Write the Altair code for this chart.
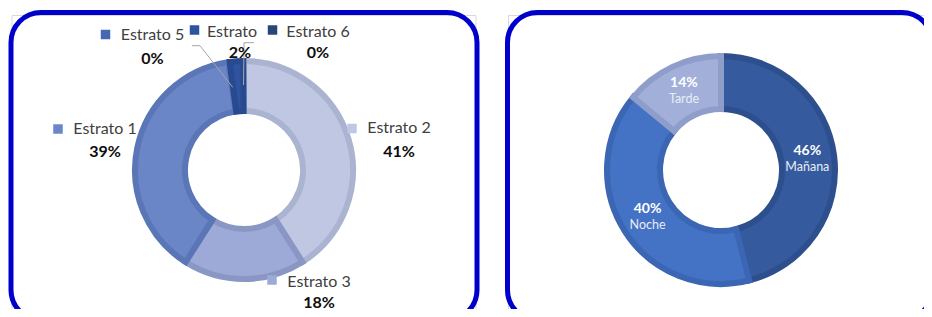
import math
import altair as alt
import pandas as pd

# ---------------- data ----------------
# Left donut (clockwise from 12 o'clock, as drawn)
estratos = ["Estrato 2", "Estrato 3", "Estrato 1", "Estrato 5", "Estrato 4", "Estrato 6"]
estrato_vals = [41.0, 18.0, 38.7, 0.2, 2.0, 0.1]
estrato_pct = ["41%", "18%", "39%", "0%", "2%", "0%"]
estrato_text = ["Estrato 2", "Estrato 3", "Estrato 1", "Estrato 5", "Estrato", "Estrato 6"]

# Right donut
jornadas = ["Mañana", "Noche", "Tarde"]
jornada_vals = [46, 40, 14]
jornada_pct = ["46%", "40%", "14%"]

# ---------------- styles ----------------
all_cats = estratos + jornadas
fill_colors = ["#BFC7E3", "#9DAAD7", "#6A86C7", "#4468B3", "#2E539F", "#27467C",
               "#355A9E", "#4472C4", "#A2B0D9"]
stroke_colors = ["#AAB3D0", "#8A97C4", "#5A76B6", "#4468B3", "#284A90", "#27467C",
                 "#2D4F8E", "#3B66B4", "#8F9DCA"]
fill_scale = alt.Scale(domain=all_cats, range=fill_colors)
stroke_scale = alt.Scale(domain=all_cats, range=stroke_colors)
theta_scale = alt.Scale(domain=[0, 100], range=[0, 2 * math.pi])
FONT = "Lato"

W, H = 916, 301

left_df = pd.DataFrame({"cat": estratos, "v": estrato_vals, "pct": estrato_pct, "name": estrato_text})
right_df = pd.DataFrame({"cat": jornadas, "v": jornada_vals, "pct": jornada_pct})


def base_of(df):
    return (
        alt.Chart(df)
        .transform_window(cum="sum(v)", frame=[None, 0])
        .transform_calculate(start="datum.cum - datum.v", mid="datum.cum - datum.v / 2")
    )


def donut(df, cx, cy, r_in, r_out, sw):
    return base_of(df).mark_arc(
        innerRadius=r_in + sw / 2, outerRadius=r_out - sw / 2, strokeJoin="miter"
    ).encode(
        theta=alt.Theta("start:Q", scale=theta_scale, stack=False),
        theta2="cum:Q",
        fill=alt.Fill("cat:N", scale=fill_scale, legend=None),
        stroke=alt.Stroke("cat:N", scale=stroke_scale, legend=None),
        strokeWidth=alt.condition("datum.v > 1", alt.value(sw), alt.value(0)),
        x=alt.value(cx),
        y=alt.value(cy),
    )


deco = alt.Data(values=[{}])


def frame(x0, x1, y0, y1):
    gray = alt.Chart(deco).mark_rect(fillOpacity=0, stroke="#D9D9D9", strokeWidth=1).encode(
        x=alt.value(x0 + 1), x2=alt.value(x1 - 1), y=alt.value(y0 + 3), y2=alt.value(y1 + 20)
    )
    blue = alt.Chart(deco).mark_rect(
        fillOpacity=0, stroke="#0000CC", strokeWidth=5, cornerRadius=30
    ).encode(x=alt.value(x0), x2=alt.value(x1), y=alt.value(y0), y2=alt.value(y1))
    return [gray, blue]


layers = []
layers += frame(3, 469, 4.5, 312)
layers += frame(499.5, 924, 4.5, 312)

# Left donut
LCX, LCY = 236, 162
layers.append(donut(left_df, LCX, LCY, 56, 112, 6))

# Right donut
RCX, RCY = 713, 162
layers.append(donut(right_df, RCX, RCY, 58, 117, 6))

# Right donut labels (inside the slices)
rbase = base_of(right_df)
layers.append(
    rbase.mark_text(radius=87, dy=-8, font=FONT, fontSize=14, fontWeight="bold", color="#FFFFFF").encode(
        theta=alt.Theta("mid:Q", scale=theta_scale, stack=False),
        text="pct:N",
        x=alt.value(RCX),
        y=alt.value(RCY),
    )
)
layers.append(
    rbase.mark_text(radius=87, dy=8, font=FONT, fontSize=12.5, color="#E9ECF5").encode(
        theta=alt.Theta("mid:Q", scale=theta_scale, stack=False),
        text="cat:N",
        x=alt.value(RCX),
        y=alt.value(RCY),
    )
)

# Left donut outside labels (Excel-style placement)
label_layout = {
    # cat: (name center x, name y, pct y, square x, square y)
    "Estrato 1": (97, 121, 143.7, 50, 121),
    "Estrato 2": (391, 120, 143.7, 344, 120.5),
    "Estrato 3": (311, 273.5, 294.5, 264, 272),
    "Estrato 5": (144.5, 27, 50.5, 97.5, 26.5),
    "Estrato 4": (224, 23.7, 45.3, 186.5, 22),
    "Estrato 6": (310, 23.7, 45, 264.5, 22),
}
pct_x = {"Estrato 4": 232}

# leader lines
leader_segments = [
    (184, 37.7, 192, 37.7), (192, 37.7, 224.7, 79.3),
    (246, 34.7, 236, 34.7), (236, 34.7, 235.5, 77),
]
for (x1, y1, x2, y2) in leader_segments:
    layers.append(
        alt.Chart(deco).mark_rule(color="#A6A6A6", strokeWidth=1).encode(
            x=alt.value(x1), y=alt.value(y1), x2=alt.value(x2), y2=alt.value(y2)
        )
    )

for cat in ["Estrato 1", "Estrato 2", "Estrato 3", "Estrato 5", "Estrato 4", "Estrato 6"]:
    nx, ny, py, sx, sy = label_layout[cat]
    one = alt.Chart(left_df).transform_filter(alt.datum.cat == cat)
    layers.append(
        one.mark_text(font=FONT, fontSize=16, color="#404040", baseline="middle", align="center").encode(
            text="name:N", x=alt.value(nx), y=alt.value(ny)
        )
    )
    layers.append(
        one.mark_text(font=FONT, fontSize=16, fontWeight="bold", color="#0D0D0D", baseline="middle", align="center").encode(
            text="pct:N", x=alt.value(pct_x.get(cat, nx)), y=alt.value(py)
        )
    )
    layers.append(
        one.mark_square(size=90, opacity=1).encode(
            fill=alt.Fill("cat:N", scale=fill_scale, legend=None),
            x=alt.value(sx), y=alt.value(sy),
        )
    )

chart = (
    alt.layer(*layers)
    .properties(width=W, height=H, padding=0, autosize=alt.AutoSizeParams(type="none"), background="white")
    .configure_view(stroke=None)
)

chart.save("out.html", embed_options={"renderer": "svg", "actions": False})
